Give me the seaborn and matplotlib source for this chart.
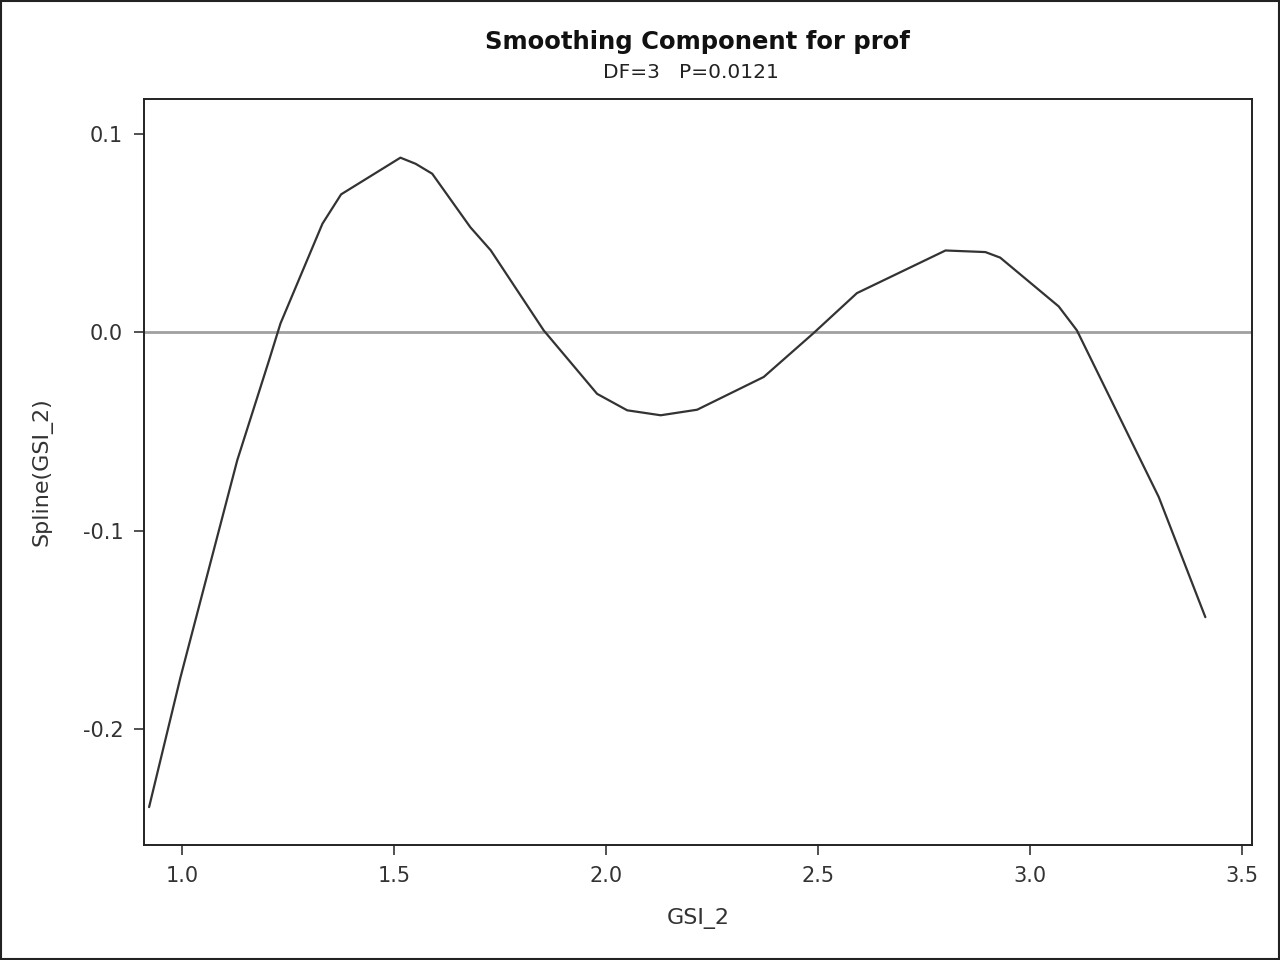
import matplotlib
matplotlib.use("Agg")
import matplotlib.pyplot as plt
import pandas as pd
import numpy as np
import seaborn as sns

# Data
gsi_2 = [0.922, 0.996, 1.130, 1.205, 1.232, 1.331, 1.375, 1.515, 1.551, 1.590,
         1.680, 1.728, 1.853, 1.979, 2.050, 2.129, 2.215, 2.372, 2.489, 2.592,
         2.801, 2.895, 2.930, 3.068, 3.111, 3.304, 3.414]
spline = [-0.2394, -0.174, -0.0645, -0.0141, 0.0045, 0.0548, 0.0696, 0.0881, 0.085, 0.080,
          0.053, 0.0414, 0.001, -0.031, -0.0393, -0.0418, -0.0390, -0.0225, -0.0005, 0.0198,
          0.0413, 0.0405, 0.0377, 0.0131, 0.001, -0.083, -0.1436]
x_ticks = [1.0, 1.5, 2.0, 2.5, 3.0, 3.5]
y_ticks = [-0.2, -0.1, 0.0, 0.1]

df = pd.DataFrame({'GSI_2': gsi_2, 'Spline(GSI_2)': spline})

sns.set_style('white')
plt.rcParams['font.family'] = ['DejaVu Sans']

fig = plt.figure(figsize=(12.8, 9.6), dpi=100)
ax = fig.add_axes([0.1125, 0.1198, 0.8656, 0.7771])

ax.axhline(0, color='#a0a0a0', lw=2, zorder=1)
sns.lineplot(data=df, x='GSI_2', y='Spline(GSI_2)', color='#333333', lw=1.6, ax=ax,
             sort=False, zorder=2)

ax.set_xlim(0.910, 3.524)
ax.set_ylim(-0.2585, 0.1177)
ax.set_xticks(x_ticks)
ax.set_yticks(y_ticks)
ax.set_xticklabels([f'{v:.1f}' for v in x_ticks])
ax.set_yticklabels([f'{v:.1f}' for v in y_ticks])
ax.tick_params(axis='both', direction='out', length=7.5, width=1.2, color='#333333',
               labelsize=15, labelcolor='#333333', pad=7.5, bottom=True, left=True)
for s in ax.spines.values():
    s.set_color('#222222')
    s.set_linewidth(1.4)

ax.set_xlabel('GSI_2', fontsize=16, color='#333333', va='center')
ax.set_ylabel('Spline(GSI_2)', fontsize=16, color='#333333', va='center')
ax.xaxis.set_label_coords(0.5, -0.098)
ax.yaxis.set_label_coords(-0.092, 0.5)

fig.text(0.545, 0.956, 'Smoothing Component for prof', ha='center', va='center',
         fontsize=17.5, fontweight='bold', color='#111111')
fig.text(0.540, 0.925, 'DF=3   P=0.0121', ha='center', va='center',
         fontsize=14.5, color='#222222')

# outer frame
fig.patches.append(plt.Rectangle((0.001, 0.001), 0.998, 0.998, transform=fig.transFigure,
                                 fill=False, edgecolor='#222222', lw=1.5))

fig.savefig('out.png', dpi=100)
plt.close(fig)
